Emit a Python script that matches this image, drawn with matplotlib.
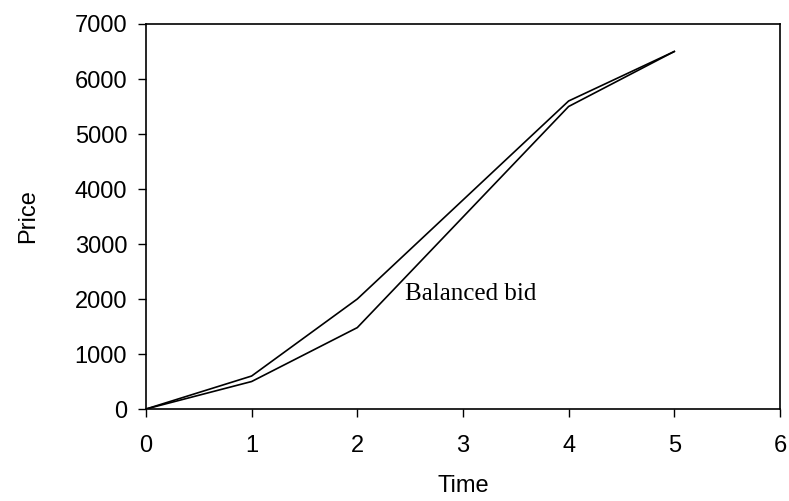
import matplotlib

matplotlib.use("Agg")
import matplotlib.pyplot as plt

# price paths over time for the two bids
time = [0, 1, 2, 4, 5]
price_upper = [0, 600, 2000, 5600, 6500]
price_lower = [0, 500, 1480, 5500, 6500]

x_ticks = [0, 1, 2, 3, 4, 5, 6]
y_ticks = [0, 1000, 2000, 3000, 4000, 5000, 6000, 7000]

label_pos = (2.45, 2100)

plt.rcParams["font.family"] = ["Liberation Sans", "DejaVu Sans"]

fig = plt.figure(figsize=(7.89, 5.01), dpi=100)
ax = fig.add_axes([0.185, 0.1836, 0.8035, 0.7685])

ax.plot(time, price_upper, color="black", lw=1.2)
ax.plot(time, price_lower, color="black", lw=1.2)

ax.text(label_pos[0], label_pos[1], "Balanced bid", family="Liberation Serif",
        fontsize=18, va="center", ha="left")

ax.set_xlim(0, 6)
ax.set_ylim(0, 7000)
ax.set_xticks(x_ticks)
ax.set_yticks(y_ticks)
ax.tick_params(axis="both", labelsize=17, length=5.5, width=1, color="black")
ax.tick_params(axis="x", pad=13)
ax.tick_params(axis="y", pad=8)

for s in ax.spines.values():
    s.set_linewidth(1.2)
    s.set_color("black")

ax.set_xlabel("Time", fontsize=17)
ax.set_ylabel("Price", fontsize=17)
ax.xaxis.set_label_coords(0.5, -0.2)
ax.xaxis.label.set_va("center")
ax.yaxis.set_label_coords(-0.186, 0.5)
ax.yaxis.label.set_va("center")

plt.savefig("out.png", dpi=100, facecolor="white")
plt.close()
